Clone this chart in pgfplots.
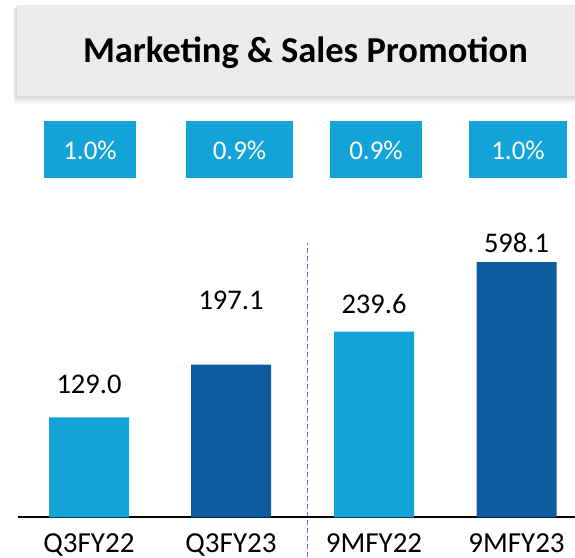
\documentclass[border=0pt]{standalone}
\usepackage{fontspec}
\setmainfont{Carlito}
\usepackage{pgfplots}
\pgfplotsset{compat=1.18}
\definecolor{lblue}{HTML}{14A3D8}
\definecolor{dblue}{HTML}{0D5C9E}
\definecolor{sepblue}{HTML}{4F7BD0}
\definecolor{titlegray}{HTML}{EBEBEB}

\begin{document}
\begin{tikzpicture}[x=1pt,y=1pt]
\useasboundingbox (0,0) rectangle (575,557);

% title banner with a soft shadow
\foreach \d in {1,...,8} {
  \fill[black,opacity=0.018] (16.5-0.4*\d,461-\d) rectangle (580,551.5-0.3*\d);
}
\fill[titlegray] (16.5,461) rectangle (580,551.5);
\node[font=\bfseries\fontsize{36.5}{40}\selectfont,anchor=base] at (305.5,494) {Marketing \& Sales Promotion};

% percentage boxes
\foreach \a/\b/\t in {44/136/1.0\%, 186/293/0.9\%, 330/422/0.9\%, 469/567/1.0\%} {
  \fill[lblue] (\a,379) rectangle (\b,436);
  \node[white,font=\fontsize{27}{30}\selectfont,anchor=base] at ({(\a+\b)/2},397) {\t};
}

% separator between quarter and nine-month figures
\draw[sepblue,line width=1.3pt,dash pattern=on 5pt off 3pt] (307.7,0) -- (307.7,314);

\begin{axis}[
  at={(17.6pt,39.6pt)}, anchor=south west,
  scale only axis,
  width=557.4pt, height=254.4pt,
  xmin=17.6, xmax=575,
  ymin=0, ymax=328.3,
  axis x line=bottom, axis y line=none,
  x axis line style={-,line width=2pt,black},
  xtick={89,231,374,516.5},
  xticklabels={Q3FY22,Q3FY23,9MFY22,9MFY23},
  major tick length=0pt,
  xticklabel style={font=\fontsize{29}{32}\selectfont,anchor=base,yshift=-35pt},
  ybar, bar width=80,
  clip mode=individual,
]
\addplot[fill=lblue,draw=none,bar shift=0pt] coordinates {(89,129.0) (374,239.6)};
\addplot[fill=dblue,draw=none,bar shift=0pt] coordinates {(231,197.1) (516.5,598.1)};

\node[font=\fontsize{28.5}{31}\selectfont,anchor=base] at (axis cs:89,160.1) {129.0};
\node[font=\fontsize{28.5}{31}\selectfont,anchor=base] at (axis cs:231,268.9) {197.1};
\node[font=\fontsize{28.5}{31}\selectfont,anchor=base] at (axis cs:374,263.4) {239.6};
\node[font=\fontsize{28.5}{31}\selectfont,anchor=base] at (axis cs:516.5,341.5) {598.1};
\end{axis}
\end{tikzpicture}
\end{document}
